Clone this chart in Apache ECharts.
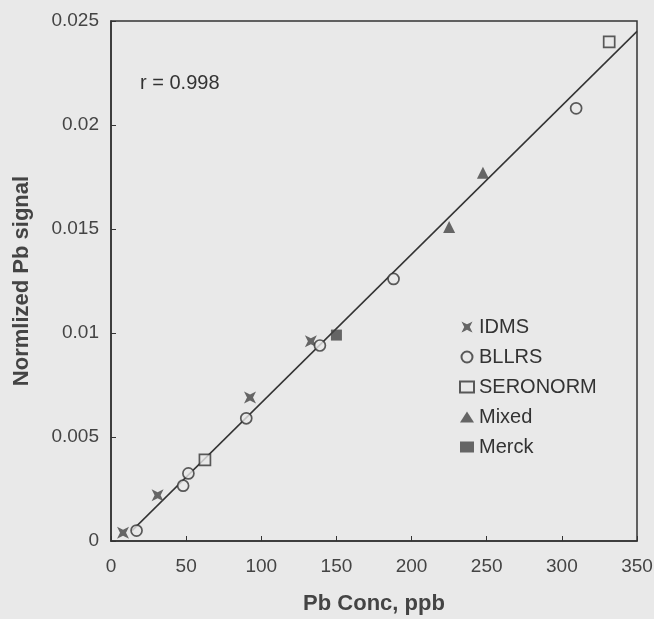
<!DOCTYPE html>
<html>
<head>
<meta charset="utf-8">
<script src="https://cdn.jsdelivr.net/npm/echarts@6/dist/echarts.min.js"></script>
<style>
  html, body { margin: 0; padding: 0; background: #e9e9e9; }
  #chart { width: 654px; height: 619px; }
</style>
</head>
<body>
<div id="chart"></div>
<script>
// values: [Pb conc (ppb), normalized Pb signal]
var idms = [[8, 0.0004], [31, 0.0022], [92.5, 0.0069], [133, 0.0096]];
var bllrs = [[17, 0.0005], [48, 0.00266], [51.5, 0.00325], [90, 0.0059], [139, 0.0094], [188, 0.0126], [309.5, 0.0208]];
var seronorm = [[62.5, 0.0039], [331.5, 0.0240]];
var mixed = [[225, 0.0151], [247.5, 0.0177]];
var merck = [[150, 0.0099]];
// fitted line end points
var fitX = [14, 350];
var fitY = [0.0005, 0.0245];

var xTicks = [0, 50, 100, 150, 200, 250, 300, 350];
var yTicks = [0, 0.005, 0.01, 0.015, 0.02, 0.025];

var fitLine = fitX.map(function (x, i) { return [x, fitY[i]]; });

var ink = '#333';
var bg = '#e9e9e9';
var font = 'Liberation Sans, Arial, sans-serif';
var starPath = 'path://M0,0 L3,1.5 L6,3 L9,1.5 L12,0 L10.5,3 L9,6 L10.5,9 L12,12 L9,10.5 L6,9 L3,10.5 L0,12 L1.5,9 L3,6 L1.5,3 Z';

var chart = echarts.init(document.getElementById('chart'));

chart.setOption({
  backgroundColor: bg,
  textStyle: { fontFamily: font },
  animation: false,
  grid: {
    left: 111, right: 17, top: 21, bottom: 78,
    outerBoundsMode: 'none',
    containLabel: false,
    show: true, borderColor: ink, borderWidth: 1.5
  },
  xAxis: {
    type: 'value',
    min: xTicks[0], max: xTicks[xTicks.length - 1], interval: 50,
    name: 'Pb Conc, ppb',
    nameLocation: 'middle',
    nameGap: 52,
    nameTextStyle: { fontSize: 22, fontWeight: 'bold', color: '#444' },
    axisLine: { lineStyle: { color: ink, width: 1.5 } },
    axisTick: { inside: true, length: 5, lineStyle: { color: ink } },
    axisLabel: { fontSize: 19, color: '#444', margin: 16 },
    splitLine: { show: false }
  },
  yAxis: {
    type: 'value',
    min: yTicks[0], max: yTicks[yTicks.length - 1], interval: 0.005,
    name: 'Normlized Pb signal',
    nameLocation: 'middle',
    nameGap: 78,
    nameTextStyle: { fontSize: 22, fontWeight: 'bold', color: '#444' },
    axisLine: { lineStyle: { color: ink, width: 1.5 } },
    axisTick: { inside: true, length: 5, lineStyle: { color: ink } },
    axisLabel: { fontSize: 19, color: '#444', margin: 12 },
    splitLine: { show: false }
  },
  legend: {
    orient: 'vertical',
    left: 454, top: 312,
    itemWidth: 14, itemHeight: 11,
    itemGap: 10,
    textStyle: { fontSize: 20, color: '#333', lineHeight: 20 },
    data: ['IDMS', 'BLLRS', 'SERONORM', 'Mixed', 'Merck']
  },
  graphic: [{
    type: 'text',
    left: 140, top: 73,
    style: { text: 'r = 0.998', fontSize: 20, fill: '#333', fontFamily: font }
  }],
  series: [
    {
      name: 'fit', type: 'line', data: fitLine, symbol: 'none',
      lineStyle: { color: ink, width: 1.5 }, z: 1, silent: true
    },
    {
      name: 'IDMS', type: 'scatter', data: idms,
      symbol: starPath, symbolSize: 12,
      itemStyle: { color: '#444' }, z: 3
    },
    {
      name: 'BLLRS', type: 'scatter', data: bllrs,
      symbol: 'circle', symbolSize: 11,
      itemStyle: { color: bg, borderColor: ink, borderWidth: 1.7 }, z: 3
    },
    {
      name: 'SERONORM', type: 'scatter', data: seronorm,
      symbol: 'rect', symbolSize: 11,
      itemStyle: { color: bg, borderColor: ink, borderWidth: 1.7 }, z: 3
    },
    {
      name: 'Mixed', type: 'scatter', data: mixed,
      symbol: 'triangle', symbolSize: 12,
      itemStyle: { color: '#444' }, z: 3
    },
    {
      name: 'Merck', type: 'scatter', data: merck,
      symbol: 'rect', symbolSize: 11,
      itemStyle: { color: '#444' }, z: 3
    }
  ]
});
</script>
</body>
</html>
